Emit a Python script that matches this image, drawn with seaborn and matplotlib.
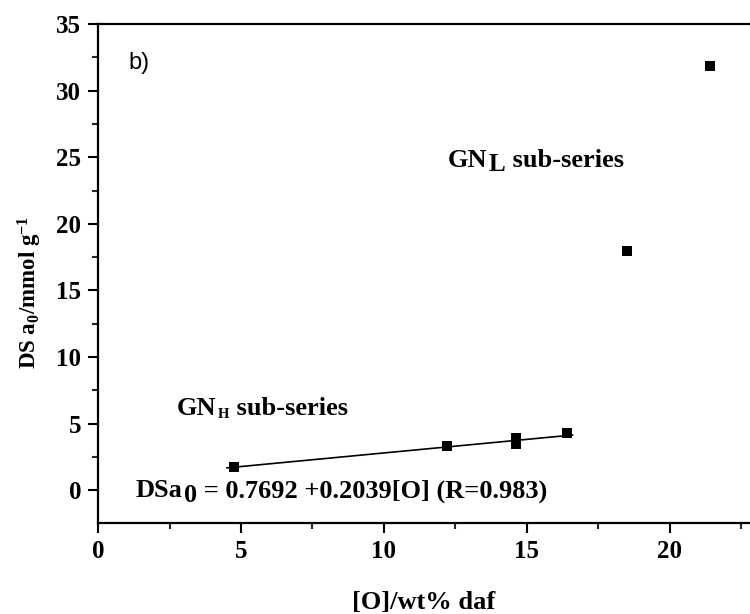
import numpy as np
import pandas as pd
import matplotlib
matplotlib.use("Agg")
import matplotlib.pyplot as plt
import seaborn as sns
from matplotlib.ticker import MultipleLocator
from matplotlib.offsetbox import TextArea, HPacker, AnnotationBbox

# dados
oxygen = [4.75, 12.2, 14.6, 14.6, 16.4, 18.5, 21.4]
dsa0 = [1.73, 3.3, 3.45, 3.9, 4.3, 18.0, 31.85]

# reta de ajuste do sub-grupo GN_H
fit_intercept = 0.7692
fit_slope = 0.2039
fit_x = [4.5, 16.6]

sns.set_theme(style="ticks")
plt.rcParams["font.family"] = ["Liberation Serif", "DejaVu Serif"]
plt.rcParams["text.color"] = "black"
plt.rcParams["axes.labelcolor"] = "black"
plt.rcParams["mathtext.fontset"] = "custom"
plt.rcParams["mathtext.rm"] = "Liberation Serif:bold"
plt.rcParams["mathtext.it"] = "Liberation Serif:bold"
plt.rcParams["mathtext.bf"] = "Liberation Serif:bold"

df = pd.DataFrame({"O": oxygen, "DSa0": dsa0})
fit_df = pd.DataFrame({"O": fit_x,
                       "DSa0": [fit_intercept + fit_slope * v for v in fit_x]})

fig = plt.figure(figsize=(7.5, 6.14), dpi=100)
ax = fig.add_axes([0.1307, 0.1482, 0.8693, 0.8127])

sns.lineplot(data=fit_df, x="O", y="DSa0", color="black", linewidth=1.2, ax=ax)
sns.scatterplot(data=df, x="O", y="DSa0", marker="s", s=55, color="black",
                edgecolor="black", linewidth=0, ax=ax, zorder=3)

ax.set_xlim(0, 22.8)
ax.set_ylim(-2.45, 35)
ax.xaxis.set_major_locator(MultipleLocator(5))
ax.xaxis.set_minor_locator(MultipleLocator(2.5))
ax.yaxis.set_major_locator(MultipleLocator(5))
ax.yaxis.set_minor_locator(MultipleLocator(2.5))

for s in ["left", "bottom", "top"]:
    ax.spines[s].set_linewidth(1.6)
    ax.spines[s].set_color("black")
ax.spines["right"].set_visible(False)

ax.tick_params(which="major", direction="out", length=7, width=1.5,
               labelsize=18, colors="black", pad=5)
ax.tick_params(which="minor", direction="out", length=4.5, width=1.5)
for lbl in ax.get_xticklabels() + ax.get_yticklabels():
    lbl.set_fontweight("bold")

ax.set_xlabel("[O]/wt% daf", fontsize=19, fontweight="bold", color="black")
ax.xaxis.set_label_coords(0.5, -0.16)
ax.xaxis.label.set_va("center")
ax.set_ylabel(r"DS a$_0$/mmol g$^{-1}$", fontsize=16.5, fontweight="bold",
              color="black")
ax.yaxis.set_label_coords(-0.104, 0.463)
ax.yaxis.label.set_va("center")

ax.text(1.08, 32.1, "b)", fontsize=17, family="Liberation Sans", va="center",
        color="black")

bold = dict(size=19, weight="bold", color="black")


def label_with_sub(parts, xy):
    # monta texto com subscrito de tamanho livre, alinhado pela linha de base
    boxes = [TextArea(txt, textprops=dict(bold, size=sz)) for txt, sz in parts]
    pack = HPacker(children=boxes, align="baseline", pad=0, sep=0)
    ab = AnnotationBbox(pack, xy, xycoords="data", frameon=False,
                        box_alignment=(0, 0.5), pad=0)
    ax.add_artist(ab)


label_with_sub([("GN", 19), (r"$_{\mathregular{L}}$", 26), (" sub-series", 19)],
               (12.24, 24.9))
label_with_sub([("GN", 19), (r"$_{\mathregular{H}}$", 15), (" sub-series", 19)],
               (2.76, 6.1))
label_with_sub([("DSa", 19), (r"$_{\mathregular{0}}$", 27),
                (" = 0.7692 +0.2039[O] (R=0.983)", 19)],
               (1.33, 0.2))

fig.savefig("out.png", dpi=100)
